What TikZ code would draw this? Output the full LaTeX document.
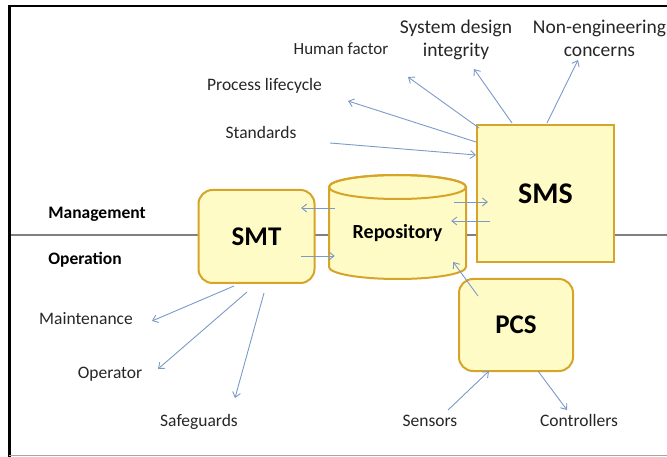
\documentclass[tikz,border=0pt]{standalone}
\usepackage{fontspec}
\setmainfont{Carlito}
\usetikzlibrary{arrows.meta,calc}

\definecolor{boxfill}{RGB}{255,251,198}
\definecolor{boxedge}{RGB}{214,164,40}
\definecolor{linkblue}{RGB}{124,154,200}
\definecolor{divider}{RGB}{128,128,128}
\definecolor{labelgray}{RGB}{38,38,38}

\begin{document}
\begin{tikzpicture}[x=1pt,y=-1pt,
  box/.style={draw=boxedge, fill=boxfill, line width=2pt, inner sep=0pt,
    text=black, font=\fontsize{27}{27}\selectfont\bfseries},
  roundbox/.style={box, rounded corners=14pt},
  tag/.style={font=\fontsize{17.5}{23}\selectfont, text=labelgray,
    anchor=base, inner sep=0pt, align=center},
  bigtag/.style={tag, font=\fontsize{19.5}{23}\selectfont},
  sidetag/.style={tag, text=black, font=\fontsize{17.5}{23}\selectfont\bfseries},
  link/.style={draw=linkblue, line width=0.9pt,
    -{Straight Barb[length=5pt,width=8pt]}},
]
\useasboundingbox (0,0) rectangle (667,457);

% frame and the management / operation divider
\draw[divider, line width=1.5pt] (9,235) -- (667,235);
\draw[black, line width=2pt] (8,6) -- (667,6);
\draw[black, line width=2.6pt] (9.3,5) -- (9.3,457);
\draw[black!35, line width=1.5pt] (9,455.5) -- (667,455.5);

% side captions
\node[sidetag] (mgmt) at (97,219) {Management};
\node[sidetag] (oper) at (85,265) {Operation};

% main blocks
\node[roundbox, minimum width=116pt, minimum height=93pt] (smt) at (256.5,236.5) {SMT};
\node[box, minimum width=137pt, minimum height=137pt,
      font=\fontsize{30}{30}\selectfont\bfseries] (sms) at (545.5,193.5) {SMS};
\node[roundbox, minimum width=114pt, minimum height=92pt] (pcs) at (516,325) {PCS};

% repository drum
\draw[draw=boxedge, fill=boxfill, line width=2pt]
  (329,187) -- (329,267) arc[start angle=180, end angle=0, x radius=68.5, y radius=12]
  -- (466,187) arc[start angle=0, end angle=-180, x radius=68.5, y radius=12] -- cycle;
\draw[draw=boxedge, line width=2pt] (397.5,187) ellipse[x radius=68.5, y radius=12];
\node[minimum width=137pt, minimum height=104pt, inner sep=0pt] (repo) at (397.5,227) {};
\node[anchor=base, inner sep=0pt, font=\fontsize{20}{20}\selectfont\bfseries] (repotext) at (397.5,239) {Repository};

% surrounding labels (two-line labels are placed by their last baseline)
\node[tag, font=\fontsize{17}{23}\selectfont] (human) at (341,55) {Human factor};
\node[bigtag] (sysdes) at (456,57) {System design\\integrity};
\node[bigtag] (noneng) at (599.5,57) {Non-engineering\\concerns};
\node[tag] (process) at (264.5,91) {Process lifecycle};
\node[tag] (standards) at (261,139) {Standards};
\node[tag] (maint) at (86,324) {Maintenance};
\node[tag] (operator) at (110,378) {Operator};
\node[tag] (safeg) at (199,426) {Safeguards};
\node[tag] (sensors) at (430,426) {Sensors};
\node[tag] (ctrl) at (579,426) {Controllers};

% free ends of the connectors
\coordinate (toHuman) at (408,77);
\coordinate (toSysdes) at (474,69);
\coordinate (toNoneng) at (578,60);
\coordinate (toProcess) at (348,101);
\coordinate (fromStandards) at (330,143);
\coordinate (toMaint) at (152,321);
\coordinate (toOperator) at (158,369);
\coordinate (toSafeg) at (235,398);
\coordinate (fromSensors) at (448,410);
\coordinate (toCtrl) at (567,410);

% repository exchanges
\draw[link] ([shift={(6,-19)}]repo.west) -- ([shift={(-14.5,-28.5)}]smt.east);
\draw[link] ([shift={(-14.5,19.5)}]smt.east) -- ([shift={(6,29)}]repo.west);
\draw[link] ([shift={(-12,-25)}]repo.east) -- ([shift={(12,8.5)}]sms.west);
\draw[link] ([shift={(14,27.5)}]sms.west) -- ([shift={(-15,-6)}]repo.east);
\draw[link] ([shift={(-38,18)}]pcs.north) -- ([shift={(-13,35)}]repo.east);

% process control
\draw[link] (fromSensors) -- ([shift={(-27,-1)}]pcs.south);
\draw[link] ([shift={(22,-1)}]pcs.south) -- (toCtrl);

% tools
\draw[link] ([shift={(-22.5,2)}]smt.south) -- (toMaint);
\draw[link] ([shift={(-9.5,8)}]smt.south) -- (toOperator);
\draw[link] ([shift={(7.5,9)}]smt.south) -- (toSafeg);

% management system
\draw[link] (fromStandards) -- ([shift={(0,-38.5)}]sms.west);
\draw[link] ([shift={(0,-51.5)}]sms.west) -- (toProcess);
\draw[link] ([shift={(3,-65.5)}]sms.west) -- (toHuman);
\draw[link] ([shift={(-33.5,-1)}]sms.north) -- (toSysdes);
\draw[link] ([shift={(1.5,-1)}]sms.north) -- (toNoneng);
\end{tikzpicture}
\end{document}
